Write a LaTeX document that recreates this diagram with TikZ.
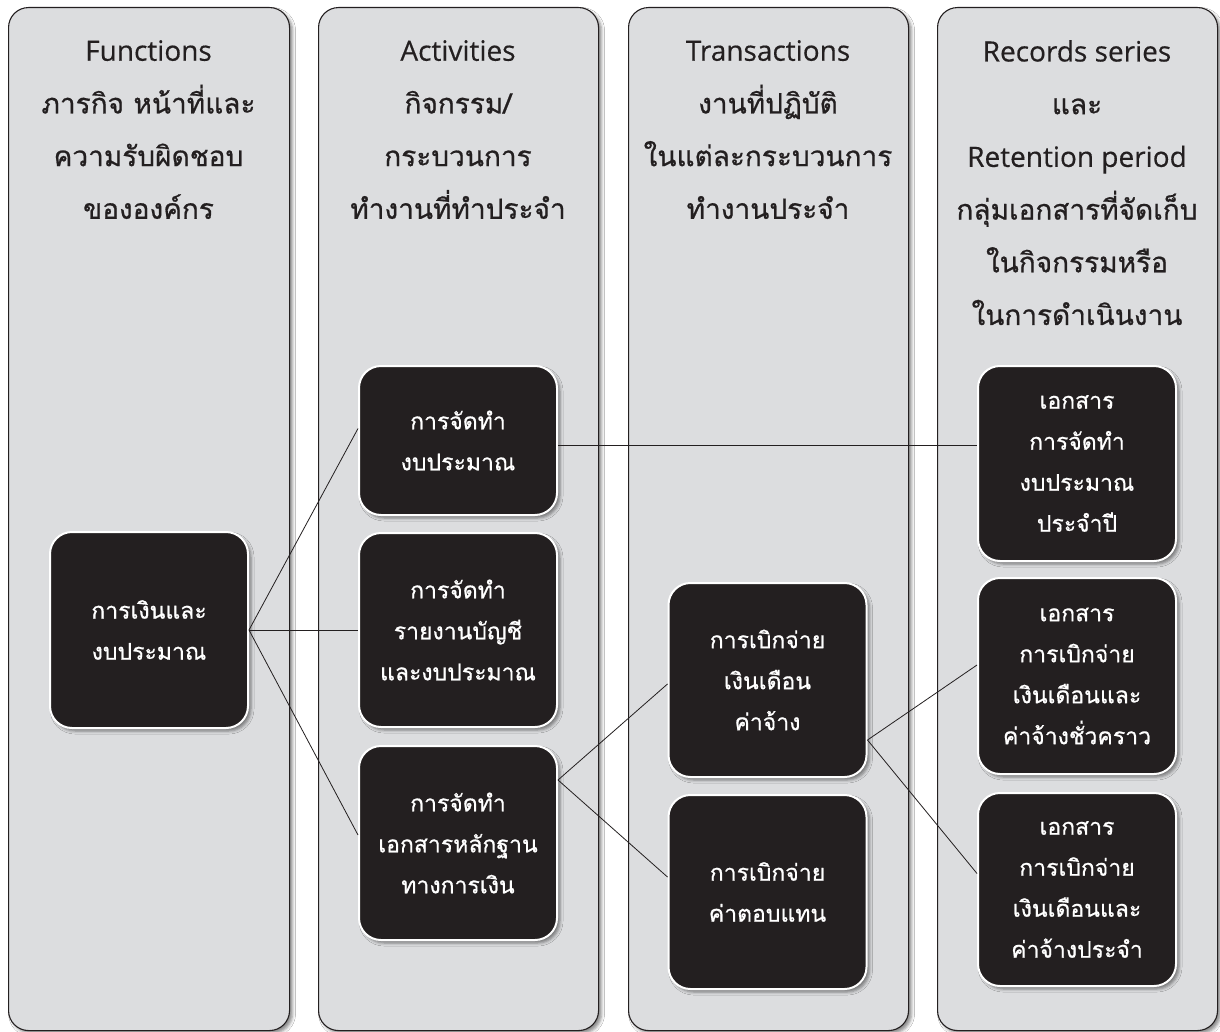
\documentclass[tikz,border=0pt]{standalone}
\usepackage{fontspec}
\setmainfont[FakeBold=0.4]{Open Sans}
\newfontfamily\thai[Script=Thai, FakeBold=0.7]{Loma}
\usetikzlibrary{shadows.blur}

\definecolor{panelgray}{HTML}{DCDDDF}
\definecolor{ink}{HTML}{231F20}

\tikzset{
  panelbox/.style={draw=ink, line width=1.1pt, fill=panelgray, rounded corners=20pt,
    anchor=north west, inner sep=0pt,
    blur shadow={shadow xshift=3pt, shadow yshift=-3pt, shadow blur radius=3pt, shadow opacity=45}},
  head/.style={anchor=north, align=center, inner sep=0pt, text=ink,
    font=\fontsize{28}{52.7}\selectfont},
  item/.style={draw=white, line width=2pt, fill=ink, rounded corners=22pt,
    text=white, align=center, inner sep=0pt, minimum width=198pt,
    font=\thai\fontsize{23}{41}\selectfont,
    blur shadow={shadow xshift=3pt, shadow yshift=-3pt, shadow blur radius=3pt, shadow opacity=45}},
  conn/.style={draw=ink, line width=0.8pt}
}

\begin{document}
\begin{tikzpicture}[x=1pt, y=-1pt]
\useasboundingbox[fill=white] (0,0) rectangle (1220,1032);

% column panels
\node[panelbox, minimum width=281pt, minimum height=1023pt] (p1) at (8,7) {};
\node[panelbox, minimum width=280pt, minimum height=1023pt] (p2) at (318,7) {};
\node[panelbox, minimum width=280pt, minimum height=1023pt] (p3) at (628,7) {};
\node[panelbox, minimum width=280pt, minimum height=1023pt] (p4) at (937,7) {};

% column headings
\node[head] (h1) at (148.5,40) {Functions\\{\thai ภารกิจ หน้าที่และ}\\{\thai ความรับผิดชอบ}\\{\thai ขององค์กร}};
\node[head] (h2) at (458,40) {Activities\\{\thai กิจกรรม/}\\{\thai กระบวนการ}\\{\thai ทำงานที่ทำประจำ}};
\node[head] (h3) at (768,40) {Transactions\\{\thai งานที่ปฏิบัติ}\\{\thai ในแต่ละกระบวนการ}\\{\thai ทำงานประจำ}};
\node[head] (h4) at (1077,40) {Records series\\{\thai และ}\\Retention period\\{\thai กลุ่มเอกสารที่จัดเก็บ}\\{\thai ในกิจกรรมหรือ}\\{\thai ในการดำเนินงาน}};

% function
\node[item, minimum height=196pt] (fin) at (149,630) {การเงินและ\\งบประมาณ};

% activities
\node[item, minimum height=149pt] (a1) at (458,440.5) {การจัดทำ\\งบประมาณ};
\node[item, minimum height=194pt] (a2) at (458,630) {การจัดทำ\\รายงานบัญชี\\และงบประมาณ};
\node[item, minimum height=194pt] (a3) at (458,843) {การจัดทำ\\เอกสารหลักฐาน\\ทางการเงิน};

% transactions
\node[item, minimum height=194pt] (t1) at (767.5,680) {การเบิกจ่าย\\เงินเดือน\\ค่าจ้าง};
\node[item, minimum height=194pt] (t2) at (767.5,892) {การเบิกจ่าย\\ค่าตอบแทน};

% records series
\node[item, minimum height=195pt] (r1) at (1077,463.5) {เอกสาร\\การจัดทำ\\งบประมาณ\\ประจำปี};
\node[item, minimum height=196pt] (r2) at (1077,676) {เอกสาร\\การเบิกจ่าย\\เงินเดือนและ\\ค่าจ้างชั่วคราว};
\node[item, minimum height=193pt] (r3) at (1077,889.5) {เอกสาร\\การเบิกจ่าย\\เงินเดือนและ\\ค่าจ้างประจำ};

% connectors
\draw[conn] (fin.east) -- ([yshift=12pt]a1.west);
\draw[conn] (fin.east) -- (a2.west);
\draw[conn] (fin.east) -- ([yshift=8pt]a3.west);
\draw[conn] ([yshift=-5pt]a1.east) -- ([yshift=-5pt]a1.east -| r1.west);
\draw[conn] ([yshift=63pt]a3.east) -- ([yshift=-4pt]t1.west);
\draw[conn] ([yshift=63pt]a3.east) -- ([yshift=15pt]t2.west);
\draw[conn] ([yshift=-60pt]t1.east) -- ([yshift=11pt]r2.west);
\draw[conn] ([yshift=-60pt]t1.east) -- ([yshift=16pt]r3.west);
\end{tikzpicture}
\end{document}
